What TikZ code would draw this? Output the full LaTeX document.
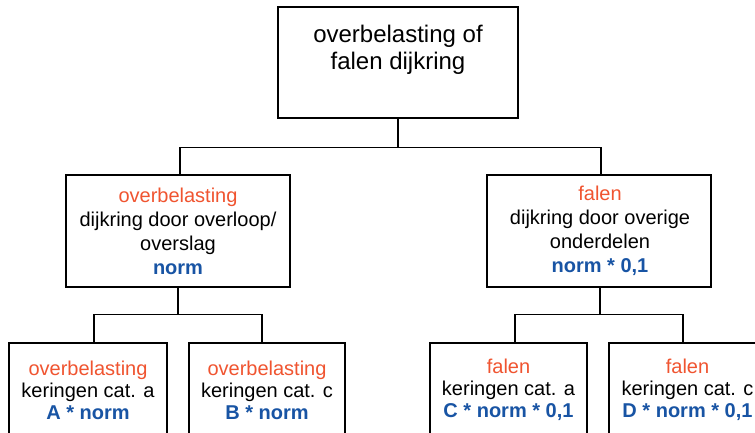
\documentclass[tikz,border=0pt]{standalone}
\usepackage{fontspec}
\setmainfont{Liberation Sans}
\definecolor{fail}{RGB}{240,84,48}
\definecolor{norm}{RGB}{24,84,164}
\begin{document}
\begin{tikzpicture}[x=1pt,y=-1pt,
  box/.style={draw=black,line width=1.2pt,fill=white,inner sep=0pt},
  bigtxt/.style={align=center,inner sep=0pt,font=\fontsize{24}{27}\selectfont},
  midtxt/.style={align=center,inner sep=0pt,font=\fontsize{20}{24}\selectfont},
  lowtxt/.style={align=center,inner sep=0pt,font=\fontsize{20}{22}\selectfont},
  link/.style={draw=black,line width=1.2pt}]
\useasboundingbox (0,0) rectangle (755,432);
\clip (0,0) rectangle (755,432);

% boxes
\node[box,minimum width=240,minimum height=111] (top) at (398,62.5) {};
\node[box,minimum width=224,minimum height=112] (midL) at (178,231) {};
\node[box,minimum width=224,minimum height=112] (midR) at (599,231) {};
\node[box,minimum width=158,minimum height=130] (b1) at (88,408) {};
\node[box,minimum width=156,minimum height=130] (b2) at (267,408) {};
\node[box,minimum width=157,minimum height=130] (b3) at (508.5,408) {};
\node[box,minimum width=157,minimum height=130] (b4) at (687.5,408) {};

% connectors
\draw[link] (top.south) -- ++(0,29) -| ([xshift=2pt]midL.north);
\draw[link] (top.south) -- ++(0,29) -| ([xshift=2pt]midR.north);
\draw[link] (midL.south) -- ++(0,27) -| ([xshift=6pt]b1.north);
\draw[link] (midL.south) -- ++(0,27) -| ([xshift=-5pt]b2.north);
\draw[link] ([xshift=1pt]midR.south) -- ++(0,27) -| ([xshift=6.5pt]b3.north);
\draw[link] ([xshift=1pt]midR.south) -- ++(0,27) -| ([xshift=-4.5pt]b4.north);

% texts
\node[bigtxt] (ttop) at (398,50) {overbelasting of\\falen dijkring};
\node[midtxt] (tmidL) at (178,231) {{\color{fail}overbelasting}\\dijkring door overloop/\\overslag\\{\color{norm}\bfseries norm}};
\node[midtxt] (tmidR) at (600,231) {{\color{fail}falen}\\dijkring door overige\\onderdelen\\{\color{norm}\bfseries norm * 0,1}};
\node[lowtxt] (tb1) at (88,390) {{\color{fail}overbelasting}\\keringen cat. a\\{\color{norm}\bfseries A * norm}};
\node[lowtxt] (tb2) at (267,390) {{\color{fail}overbelasting}\\keringen cat. c\\{\color{norm}\bfseries B * norm}};
\node[lowtxt] (tb3) at (508.5,390) {{\color{fail}falen}\\keringen cat. a\\{\color{norm}\bfseries C * norm * 0,1}};
\node[lowtxt] (tb4) at (687.5,390) {{\color{fail}falen}\\keringen cat. c\\{\color{norm}\bfseries D * norm * 0,1}};
\end{tikzpicture}
\end{document}
